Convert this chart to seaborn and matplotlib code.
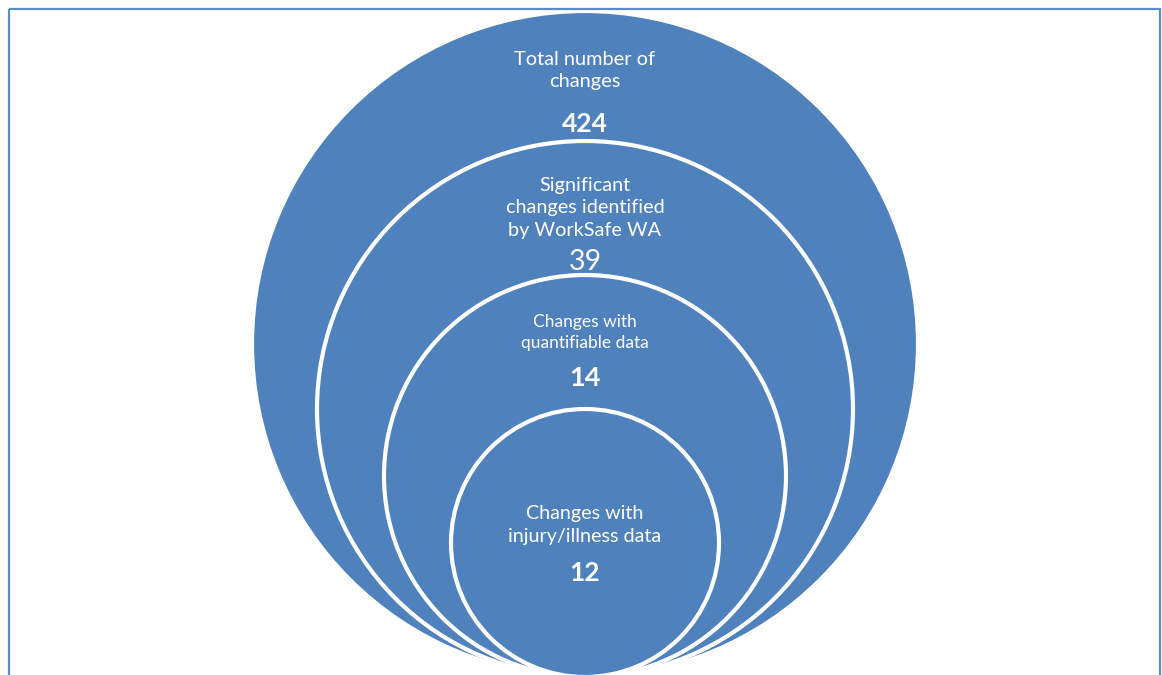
import matplotlib
matplotlib.use("Agg")
import matplotlib.pyplot as plt
from matplotlib.patches import Circle, Rectangle
import seaborn as sns

# ---- data ----
labels = ["Total number of\nchanges",
          "Significant\nchanges identified\nby WorkSafe WA",
          "Changes with\nquantifiable data",
          "Changes with\ninjury/illness data"]
values = [424, 39, 14, 12]

# ---- layout (pixel units) ----
radii = [333, 268, 201, 134]
base_y = 677
cx = 585
label_y = [70.5, 208, 332.5, 525]
value_y = [124, 262, 378, 573]
label_sizes = [14.4, 14.3, 12.5, 14.2]
value_sizes = [19, 20.5, 19.5, 19]
value_weights = ["bold", "normal", "bold", "bold"]
fill = "#4F81BD"

sns.set_theme(style="white")
plt.rcParams["font.family"] = ["Lato", "DejaVu Sans"]

fig = plt.figure(figsize=(11.62, 6.75), dpi=100)
ax = fig.add_axes([0, 0, 1, 1])
ax.set_xlim(0, 1162)
ax.set_ylim(675, 0)
ax.set_aspect("equal")
ax.axis("off")

for i, (lab, val) in enumerate(zip(labels, values)):
    r = radii[i]
    ax.add_patch(Circle((cx, base_y - r), r, facecolor=fill,
                        edgecolor="white", linewidth=3.0, zorder=2 + i))
    ax.text(cx, label_y[i], lab, ha="center", va="center", color="white",
            fontsize=label_sizes[i], linespacing=1.42, zorder=10)
    ax.text(cx, value_y[i], str(val), ha="center", va="center", color="white",
            fontsize=value_sizes[i], fontweight=value_weights[i], zorder=10)

# outer frame
ax.add_patch(Rectangle((8.5, 8.5), 1151, 700, fill=False,
                       edgecolor="#5B8BCB", linewidth=1.6, zorder=20,
                       clip_on=False))

fig.savefig("out.png", dpi=100)
